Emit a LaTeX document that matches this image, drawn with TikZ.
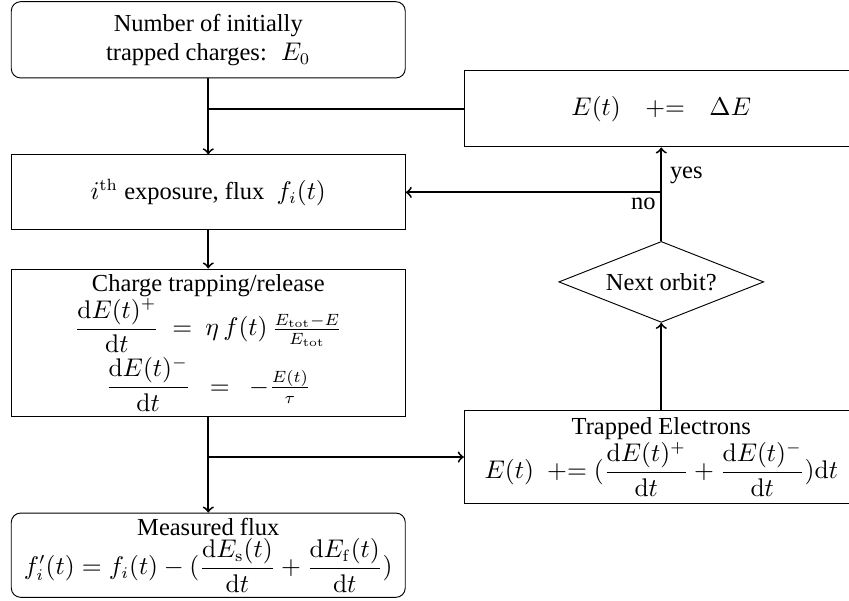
\documentclass[tikz,border=0pt]{standalone}
\usepackage{amsmath}
\usepackage{amssymb}
\usepackage[no-math]{fontspec}
\setmainfont{Liberation Serif}
\usetikzlibrary{shapes.geometric}
\newcommand{\dd}{\mathrm{d}}

\begin{document}
\begin{tikzpicture}[
    font=\fontsize{10.5}{12.6}\selectfont,
    block/.style={draw, align=center, minimum width=5.94cm, inner sep=2pt},
    endblock/.style={block, rounded corners},
    decision/.style={draw, diamond, aspect=2.5, minimum width=3.09cm, minimum height=1.22cm, inner sep=0pt},
    link/.style={thick, ->}
  ]
  \useasboundingbox (0,0) rectangle (12.8,-9.05);
  \clip (0,0) rectangle (12.8,-9.05);

  % left column
  \node[endblock, minimum height=1.15cm] (init) at (3.14,-0.60)
    {Number of initially\\ trapped charges: \ $E_0$};
  \node[block, minimum height=1.13cm] (expo) at (3.14,-2.90)
    {$i^{\mathrm{th}}$ exposure, flux \ $f_i(t)$};
  \node[block, minimum height=2.23cm] (trap) at (3.14,-5.17)
    {Charge trapping/release\\
     $\displaystyle\frac{\dd E(t)^+}{\dd t}\ =\ \eta\, f(t)\,\tfrac{E_{\mathrm{tot}}-E}{E_{\mathrm{tot}}}$\\[1pt]
     $\displaystyle\frac{\dd E(t)^-}{\dd t}\enspace=\enspace-\tfrac{E(t)}{\tau}$};
  \node[endblock, minimum height=1.27cm] (meas) at (3.14,-8.37)
    {Measured flux\\
     $\displaystyle f'_i(t) = f_i(t) - (\frac{\dd E_{\mathrm{s}}(t)}{\dd t} + \frac{\dd E_{\mathrm{f}}(t)}{\dd t})$};

  % right column
  \node[block, minimum height=1.15cm] (delta) at (9.97,-1.64)
    {$E(t)\quad{+}{=}\quad\Delta E$};
  \node[decision] (orbit) at (9.97,-4.25) {Next orbit?};
  \node[block, minimum height=1.39cm] (elec) at (9.97,-6.89)
    {Trapped Electrons\\
     $\displaystyle E(t)\ \mathrel{+}\mathrel{=} (\frac{\dd E(t)^+}{\dd t} + \frac{\dd E(t)^-}{\dd t})\dd t$};

  \coordinate (split) at (orbit.north |- expo.east);

  \draw[link] (init) -- (expo);
  \draw[thick] (init.south |- delta.west) -- (delta.west);
  \draw[link] (expo) -- (trap);
  \draw[link] (trap) -- (meas);
  \draw[link] (trap.south |- elec.west) -- (elec.west);
  \draw[link] (elec) -- (orbit);
  \draw[link] (orbit.north) -- node[right, pos=0.7] {yes} (delta.south);
  \draw[link] (split) -- node[pos=0, below left, inner sep=2pt] {no} (expo.east);
\end{tikzpicture}
\end{document}
